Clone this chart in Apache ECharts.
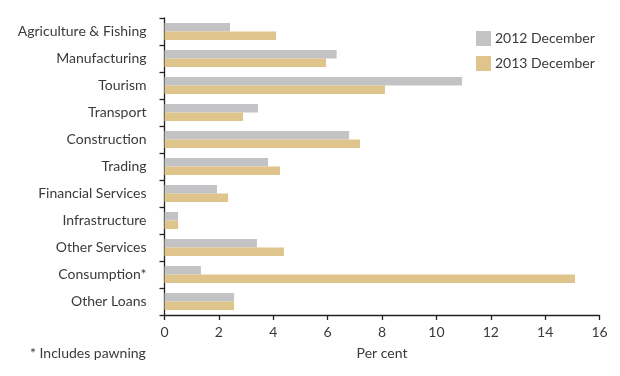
<!DOCTYPE html>
<html>
<head>
<meta charset="utf-8">
<script src="https://cdn.jsdelivr.net/npm/echarts@6/dist/echarts.min.js"></script>
<style>
  html, body { margin: 0; padding: 0; background: #fff; }
  #chart { width: 620px; height: 376px; }
</style>
</head>
<body>
<div id="chart"></div>
<script>
// Loan sectors, top to bottom
const sectors = [
  'Agriculture & Fishing', 'Manufacturing', 'Tourism', 'Transport',
  'Construction', 'Trading', 'Financial Services', 'Infrastructure',
  'Other Services', 'Consumption*', 'Other Loans'
];
// Share of total loans, per cent
const dec2012 = [2.41, 6.33, 10.94, 3.44, 6.79, 3.81, 1.93, 0.50, 3.40, 1.34, 2.56];
const dec2013 = [4.10, 5.94, 8.11, 2.89, 7.19, 4.25, 2.34, 0.50, 4.39, 15.10, 2.56];
const seriesNames = ['2012 December', '2013 December'];
const xTicks = [0, 2, 4, 6, 8, 10, 12, 14, 16];

const FONT = 'Lato';
const FS = 14;
const TEXT = '#3a3a3a';
const AXIS = '#222';

const chart = echarts.init(document.getElementById('chart'), null, { renderer: 'canvas' });
chart.setOption({
  animation: false,
  textStyle: { fontFamily: FONT },
  grid: { left: 164.5, right: 20.5, top: 18, bottom: 61, containLabel: false },
  legend: {
    orient: 'vertical',
    left: 476, top: 31, padding: 0,
    icon: 'rect',
    itemWidth: 15, itemHeight: 15, itemGap: 10,
    textStyle: { fontFamily: FONT, fontSize: FS, color: TEXT, padding: [0, 0, 0, -1] },
    data: seriesNames
  },
  xAxis: {
    type: 'value',
    min: xTicks[0], max: xTicks[xTicks.length - 1], interval: 2,
    name: 'Per cent', nameLocation: 'middle', nameGap: 31,
    nameTextStyle: { fontFamily: FONT, fontSize: FS, color: TEXT },
    axisLine: { show: true, lineStyle: { color: AXIS, width: 1.3 } },
    axisTick: { show: true, length: 5, inside: false, lineStyle: { color: AXIS, width: 1.3 } },
    axisLabel: { fontFamily: FONT, fontSize: FS, color: TEXT, margin: 10 },
    splitLine: { show: false }
  },
  yAxis: {
    type: 'category',
    inverse: true,
    data: sectors,
    axisLine: { show: true, lineStyle: { color: AXIS, width: 1.3 } },
    axisTick: { show: true, length: 5, inside: false, lineStyle: { color: AXIS, width: 1.3 } },
    axisLabel: { fontFamily: FONT, fontSize: FS, color: TEXT, margin: 18 },
    splitLine: { show: false }
  },
  series: [
    {
      name: seriesNames[0], type: 'bar', data: dec2012,
      barWidth: 8.5, barGap: '0%',
      itemStyle: { color: '#c3c3c5' }
    },
    {
      name: seriesNames[1], type: 'bar', data: dec2013,
      barWidth: 8.5, barGap: '0%',
      itemStyle: { color: '#dfc48b' }
    }
  ],
  graphic: [
    {
      type: 'text', left: 30, top: 346,
      style: { text: '* Includes pawning', fontFamily: FONT, fontSize: FS, fill: TEXT }
    }
  ]
});
</script>
</body>
</html>
